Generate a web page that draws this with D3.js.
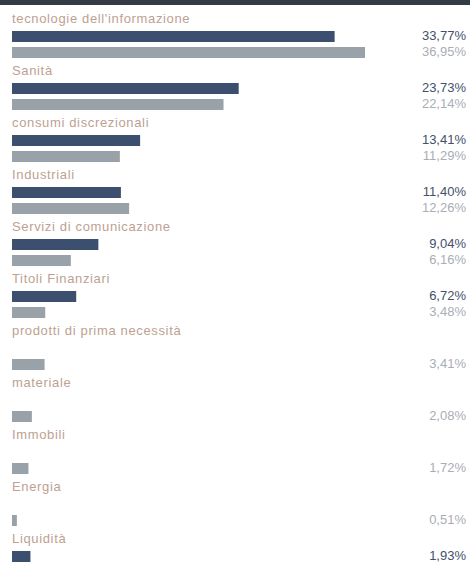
<!DOCTYPE html>
<html>
<head>
<meta charset="utf-8">
<script src="https://cdn.jsdelivr.net/npm/d3@7"></script>
<style>
 body{margin:0;background:#fff;}
 svg text{font-family:"Liberation Sans",Arial,sans-serif;}
</style>
</head>
<body>
<div id="chart"></div>
<script>
// Data
var categories = ["tecnologie dell'informazione","Sanità","consumi discrezionali","Industriali",
  "Servizi di comunicazione","Titoli Finanziari","prodotti di prima necessità","materiale",
  "Immobili","Energia","Liquidità"];
var fundValues  = [33.77, 23.73, 13.41, 11.40, 9.04, 6.72, null, null, null, null, 1.93];
var benchValues = [36.95, 22.14, 11.29, 12.26, 6.16, 3.48, 3.41, 2.08, 1.72, 0.51, null];

var W = 470, H = 562;
var left = 12, right = 466;
var barH = 11;

var svg = d3.select("#chart").append("svg")
  .attr("width", W).attr("height", H);

svg.append("rect")			//Dark strip on top
  .attr("x", 0).attr("y", 0)
  .attr("width", W).attr("height", 5)
  .attr("fill", "#353b45");

var xScale = d3.scaleLinear().domain([0, 36.95]).range([0, 353]);
var yScale = d3.scaleBand().domain(categories).range([23, 23 + 52 * categories.length]);

var fmt = function(v){ return d3.format(".2f")(v).replace(".", ",") + "%"; };

var g = svg.selectAll(".grp")
  .data(categories)
  .enter().append("g")
  .attr("class", "grp")
  .attr("transform", function(d){ return "translate(0," + yScale(d) + ")"; });

g.append("text")			//Category label
  .attr("x", left).attr("y", 0)
  .attr("font-size", "13px")
  .attr("letter-spacing", "0.65px")
  .attr("fill", "#bda191")
  .text(function(d){ return d; });

g.each(function(d, i){
  var grp = d3.select(this);
  if(fundValues[i] !== null){
    grp.append("rect")
      .attr("x", left).attr("y", 8)
      .attr("width", xScale(fundValues[i])).attr("height", barH)
      .attr("fill", "#3d4f6e");
    grp.append("text")
      .attr("x", right).attr("y", 17)
      .attr("text-anchor", "end")
      .attr("font-size", "13px")
      .attr("fill", "#44506a")
      .text(fmt(fundValues[i]));
  }
  if(benchValues[i] !== null){
    grp.append("rect")
      .attr("x", left).attr("y", 24)
      .attr("width", xScale(benchValues[i])).attr("height", barH)
      .attr("fill", "#9aa2a9");
    grp.append("text")
      .attr("x", right).attr("y", 33)
      .attr("text-anchor", "end")
      .attr("font-size", "13px")
      .attr("fill", "#a9aeb4")
      .text(fmt(benchValues[i]));
  }
});
</script>
</body>
</html>
